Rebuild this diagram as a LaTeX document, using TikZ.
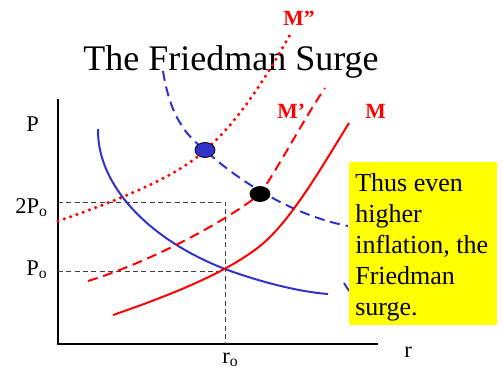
\documentclass[tikz,border=0pt]{standalone}
\usepackage{fontspec}
\setmainfont{Liberation Serif}
\usetikzlibrary{shapes.geometric}
\definecolor{fsRed}{HTML}{FF0000}
\definecolor{fsBlue}{HTML}{3333CC}
\definecolor{fsYellow}{HTML}{FFFF00}
\tikzset{
  fs axis/.style={draw=black, line width=1pt},
  fs guide/.style={draw=black!75, line width=0.6pt, dash pattern=on 3pt off 2pt},
  fs curve/.style={line width=1.2pt},
  fs dashed/.style={fs curve, dash pattern=on 6pt off 3.5pt},
  fs dotted/.style={line width=2.1pt, line cap=round, dash pattern=on 0pt off 4pt},
  fs dot/.style={ellipse, draw=black, line width=0.5pt, minimum width=12pt, minimum height=9pt, inner sep=0pt},
  fs label/.style={font=\fontsize{13.5}{16}\selectfont, anchor=base west, inner sep=0pt},
  fs curve label/.style={font=\fontsize{13}{15}\selectfont\bfseries, text=fsRed, anchor=base west, inner sep=0pt},
  fs note/.style={font=\fontsize{15.6}{18.6}\selectfont, align=left, anchor=north west, inner sep=0pt},
}

\begin{document}
\begin{tikzpicture}[x=0.6pt, y=-0.6pt]
  \useasboundingbox (0,0) rectangle (503,376);

  % Title
  \node[anchor=base west, inner sep=0pt, font=\fontsize{21.6}{24}\selectfont] (title) at (83,70) {The Friedman Surge};

  % Axes
  \coordinate (ytop) at (58,99);
  \coordinate (origin) at (58,344);
  \coordinate (xend) at (378,344);
  \draw[fs axis] (ytop) -- (origin) -- (xend);

  % Guide lines to the equilibria
  \coordinate (twoP) at (58,202);
  \coordinate (Po) at (58,271);
  \coordinate (ro) at (226,344);
  \draw[fs guide] (twoP) -| (ro);
  \draw[fs guide] (Po) -- (Po -| ro);

  % Axis labels
  \node[fs label] (Plab) at (26,131) {P};
  \node[fs label] (twoPlab) at (15,213) {2P\textsubscript{o}};
  \node[fs label] (Polab) at (26,275) {P\textsubscript{o}};
  \node[fs label] (rolab) at (222,363) {r\textsubscript{o}};
  \node[fs label] (rlab) at (404,357) {r};

  % Demand curves (blue)
  \draw[fs curve, fsBlue] (98,129) .. controls (97,186) and (150,240) .. (225,269)
    .. controls (260,282) and (300,292) .. (328,294);
  \draw[fs dashed, fsBlue] (163,71) .. controls (170,115) and (185,135) .. (205,150)
    .. controls (228,172) and (285,214) .. (348,226);
  \draw[fs curve, fsBlue] (344,283) -- (349,291);

  % Money supply curves (red)
  \draw[fs curve, fsRed] (113,315) .. controls (180,292) and (230,270) .. (260,246)
    .. controls (290,222) and (320,170) .. (349,123);
  \draw[fs dashed, fsRed] (88,281) .. controls (150,262) and (225,222) .. (260,194)
    .. controls (280,165) and (305,117) .. (325,88);
  \draw[fs dotted, fsRed] (58,221) .. controls (120,200) and (180,175) .. (205,150)
    .. controls (240,122) and (275,62) .. (291,33);

  % Curve labels
  \node[fs curve label] (Mpp) at (283,25) {M”};
  \node[fs curve label] (Mp) at (277,118) {M’};
  \node[fs curve label] (M) at (365,118) {M};

  % Equilibrium points
  \node[fs dot, fill=fsBlue] (bluedot) at (205,150) {};
  \node[fs dot, fill=black] (blackdot) at (260,194) {};

  % Note
  \fill[fsYellow] (349,162) rectangle (497,325);
  \node[fs note] (note) at (355,173) {Thus even\\higher\\inflation, the\\Friedman\\surge.};
\end{tikzpicture}
\end{document}
